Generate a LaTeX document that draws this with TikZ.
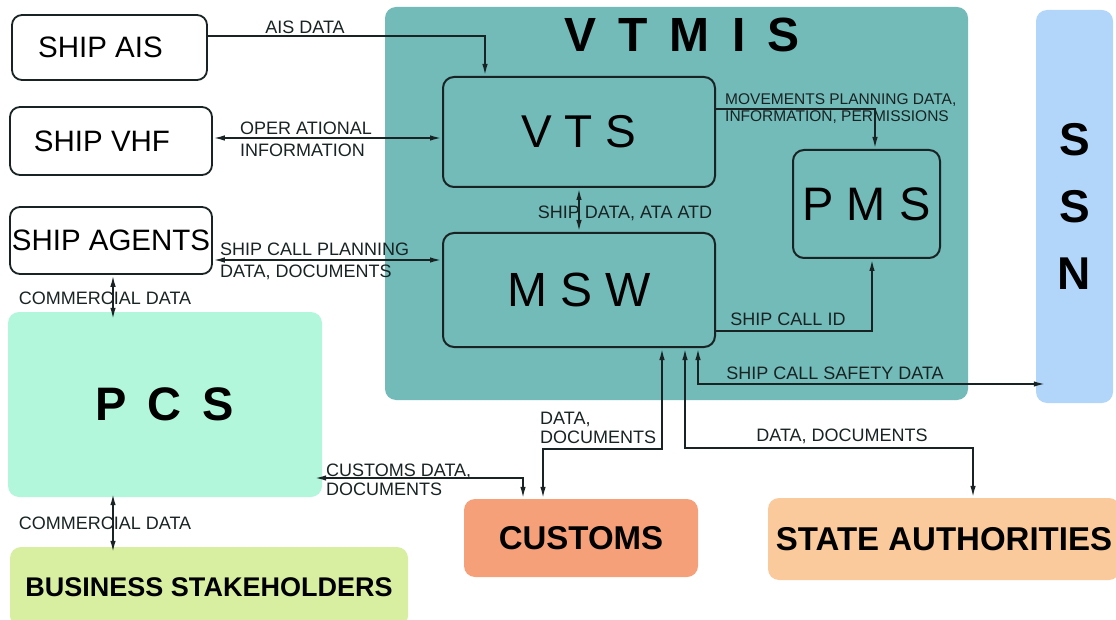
\documentclass[tikz,border=0pt]{standalone}
\usepackage{fontspec}
\setmainfont{Liberation Sans}
\usepackage{xcolor}
\usetikzlibrary{arrows.meta}

\definecolor{vtmisteal}{RGB}{114,187,185}
\definecolor{ssnblue}{RGB}{178,214,250}
\definecolor{pcsmint}{RGB}{178,247,219}
\definecolor{bizgreen}{RGB}{216,239,162}
\definecolor{custorange}{RGB}{245,160,120}
\definecolor{statepeach}{RGB}{250,201,156}
\definecolor{linedark}{RGB}{25,35,35}

\newcommand{\wordgap}[1]{\spaceskip #1\relax}

\begin{document}
\begin{tikzpicture}[x=1pt,y=-1pt]
	\useasboundingbox (0,0) rectangle (1116,620);
	\clip (0,0) rectangle (1116,620);
	
	\tikzstyle{bnode} = [rectangle,rounded corners=10pt,draw=linedark,line width=1.8pt,fill=white,inner sep=0pt,font=\fontsize{29.5}{32}\selectfont]
	\tikzstyle{tnode} = [rectangle,rounded corners=11pt,draw=linedark,line width=2pt,inner sep=0pt]
	\tikzstyle{cnode} = [rectangle,rounded corners=11pt,inner sep=0pt]
	\tikzstyle{lnode} = [inner sep=0pt,text=linedark,font=\fontsize{18}{22}\selectfont]
	\tikzstyle{vedge} = [-{Latex[length=12pt,width=5.5pt]},line width=1.9pt,draw=linedark]
	\tikzstyle{bedge} = [{Latex[length=12pt,width=5.5pt]}-{Latex[length=12pt,width=5.5pt]},line width=1.9pt,draw=linedark]
	
	% areas
	\node[cnode,fill=vtmisteal,minimum width=583pt,minimum height=393pt] (vtmis) at (676.5,203.5) {};
	\node[inner sep=0pt,font=\bfseries\fontsize{48}{50}\selectfont\wordgap{22pt}] (vtmistitle) at (682,35) {V T M I S};
	\node[cnode,fill=ssnblue,minimum width=77pt,minimum height=393pt,align=center,font=\bfseries\fontsize{46}{67}\selectfont] (ssn) at (1074.5,206.5) {S\\S\\N};
	\node[cnode,fill=pcsmint,minimum width=314pt,minimum height=185pt,font=\bfseries\fontsize{47}{50}\selectfont\wordgap{21pt}] (pcs) at (165,404.5) {P C S};
	\node[cnode,fill=bizgreen,minimum width=398pt,minimum height=80pt,font=\bfseries\fontsize{27}{30}\selectfont] (biz) at (209,587) {BUSINESS STAKEHOLDERS};
	\node[cnode,fill=custorange,minimum width=234pt,minimum height=78pt,font=\bfseries\fontsize{33}{36}\selectfont] (customs) at (581,538) {CUSTOMS};
	\node[cnode,fill=statepeach,minimum width=352pt,minimum height=82pt,font=\bfseries\fontsize{33}{36}\selectfont] (state) at (944,539) {STATE AUTHORITIES};
	
	% ship side
	\node[bnode,minimum width=195pt,minimum height=65pt] (ais) at (109.5,47.5) {SHIP AIS\hspace*{18pt}};
	\node[bnode,minimum width=202pt,minimum height=68pt] (vhf) at (111,141) {SHIP VHF\hspace*{18pt}};
	\node[bnode,minimum width=202pt,minimum height=67pt] (agents) at (111,240.5) {SHIP AGENTS};
	
	% inside vtmis
	\node[tnode,minimum width=272pt,minimum height=110pt,font=\fontsize{46}{50}\selectfont] (vts) at (579,132) {V T S};
	\node[tnode,minimum width=272pt,minimum height=114pt,font=\fontsize{48}{50}\selectfont] (msw) at (579,290) {M S W};
	\node[tnode,minimum width=147pt,minimum height=108pt,font=\fontsize{47}{50}\selectfont] (pms) at (866.5,204) {P M S};
	
	% labels
	\node[lnode] (aislabel) at (305,27) {AIS DATA};
	\node[lnode,anchor=west,align=left] (oplabel) at (240,139) {OPER ATIONAL\\INFORMATION};
	\node[lnode,anchor=west,align=left] (planlabel) at (220,261) {SHIP CALL PLANNING\\DATA, DOCUMENTS};
	\node[lnode] (comm1label) at (105,298) {COMMERCIAL DATA};
	\node[lnode] (comm2label) at (105,523) {COMMERCIAL DATA};
	\node[lnode] (shiplabel) at (625,213) {SHIP DATA, ATA ATD};
	\node[lnode,anchor=west,align=left,font=\fontsize{15.5}{17}\selectfont] (movlabel) at (725,108.5) {MOVEMENTS PLANNING DATA,\\INFORMATION, PERMISSIONS};
	\node[lnode] (idlabel) at (788,319) {SHIP CALL ID};
	\node[lnode] (safetylabel) at (835,373) {SHIP CALL SAFETY DATA};
	\node[lnode,anchor=west,align=left,font=\fontsize{18}{19}\selectfont] (custdoclabel) at (540,428) {DATA,\\DOCUMENTS};
	\node[lnode] (statedoclabel) at (842,436) {DATA, DOCUMENTS};
	\node[lnode,anchor=west,align=left,font=\fontsize{18}{19}\selectfont] (pcsdoclabel) at (326,479.5) {CUSTOMS DATA,\\DOCUMENTS};
	
	% connectors
	\draw[vedge] ([yshift=11.5pt]ais.east) -| ([xshift=-94pt]vts.north);
	\draw[bedge] ([yshift=3pt]vhf.east) -- ([yshift=3pt]vhf.east -| vts.west);
	\draw[bedge] ([yshift=-19.5pt]agents.east) -- ([yshift=-19.5pt]agents.east -| msw.west);
	\draw[bedge] ([xshift=2pt]agents.south) -- ([xshift=2pt,yshift=-8pt]agents.south |- pcs.north);
	\draw[bedge] ([xshift=-52pt,yshift=4pt]pcs.south) -- ([xshift=-52pt,yshift=-6pt]pcs.south |- biz.north);
	\draw[bedge] (vts.south) -- (msw.north);
	\draw[vedge] ([yshift=23pt]vts.east) -| ([xshift=8.5pt]pms.north);
	\draw[vedge] ([yshift=-41pt]msw.east) -| ([xshift=5.5pt]pms.south);
	\draw[bedge] ([xshift=119pt]msw.south) |- ([xshift=10pt,yshift=-177.5pt]ssn.west);
	\draw[bedge] ([xshift=83pt]msw.south) -- ++(0,101) -| ([xshift=-38pt]customs.north);
	\draw[bedge] ([xshift=106pt]msw.south) -- ++(0,100) -| ([xshift=29pt]state.north);
	\draw[bedge] ([xshift=-58pt]customs.north) |- ([xshift=-8pt,yshift=-73.5pt]pcs.east);

\end{tikzpicture}
\end{document}
